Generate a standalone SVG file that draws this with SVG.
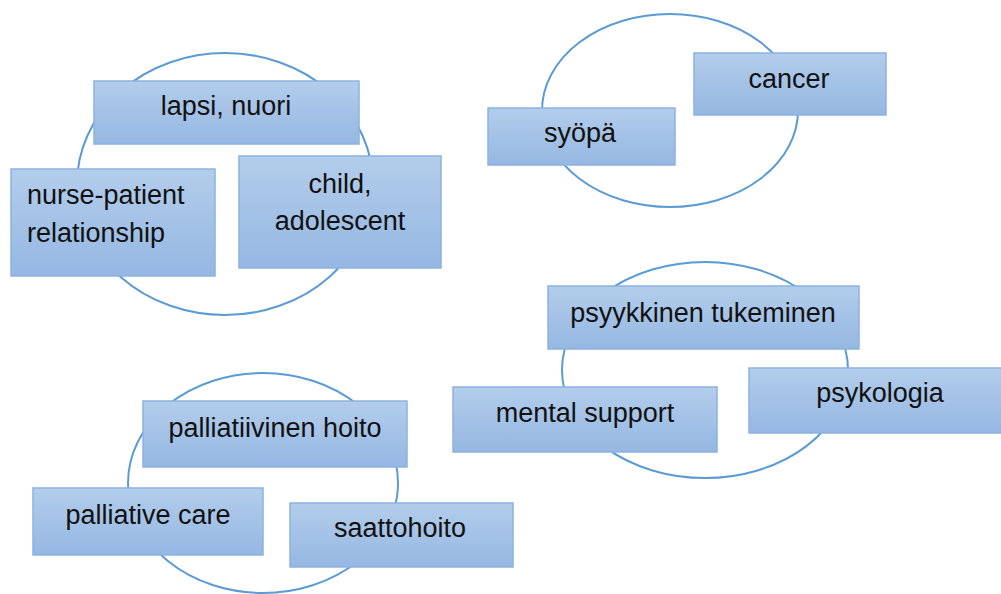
<svg xmlns="http://www.w3.org/2000/svg" width="1001" height="594" viewBox="0 0 1001 594">
<defs>
<linearGradient id="g" x1="0" y1="0" x2="0" y2="1">
<stop offset="0" stop-color="#b3cdeb"/>
<stop offset="1" stop-color="#95b7e2"/>
</linearGradient>
<style>
.ring{fill:none;stroke:#5b9bd5;stroke-width:2}
.box{fill:url(#g);stroke:#8cb2e0;stroke-width:1.5}
text{font-family:"Liberation Sans",Arial,sans-serif;font-size:27px;fill:#111}
.c{text-anchor:middle}
</style>
</defs>
<rect width="1001" height="594" fill="#fff"/>
<g id="rings">
<ellipse class="ring" cx="225" cy="184" rx="148" ry="131"/>
<ellipse class="ring" cx="670" cy="110.5" rx="128" ry="96.5"/>
<ellipse class="ring" cx="705" cy="370" rx="143" ry="108"/>
<ellipse class="ring" cx="263" cy="483" rx="135" ry="110"/>
</g>
<g id="connectors"></g>
<g id="n-lapsi"><rect class="box" x="94" y="81" width="265" height="63"/><text class="c" x="226" y="115">lapsi, nuori</text></g>
<g id="n-nurse"><rect class="box" x="11" y="169" width="204" height="107"/><text x="27" y="204">nurse-patient</text><text x="27" y="242">relationship</text></g>
<g id="n-child"><rect class="box" x="239" y="156" width="202" height="112"/><text class="c" x="340" y="193">child,</text><text class="c" x="340" y="230">adolescent</text></g>
<g id="n-cancer"><rect class="box" x="694" y="53" width="192" height="62"/><text class="c" x="789" y="88">cancer</text></g>
<g id="n-syopa"><rect class="box" x="488" y="108" width="187" height="57"/><text class="c" x="580" y="142">syöpä</text></g>
<g id="n-psyykkinen"><rect class="box" x="548" y="286" width="311" height="63"/><text class="c" x="703" y="322">psyykkinen tukeminen</text></g>
<g id="n-mental"><rect class="box" x="453" y="387" width="264" height="65"/><text class="c" x="585" y="422">mental support</text></g>
<g id="n-psykologia"><rect class="box" x="749" y="368" width="254" height="65"/><text class="c" x="880" y="402">psykologia</text></g>
<g id="n-palliatiivinen"><rect class="box" x="143" y="401" width="264" height="66"/><text class="c" x="275" y="437">palliatiivinen hoito</text></g>
<g id="n-palliative"><rect class="box" x="33" y="488" width="230" height="67"/><text class="c" x="148" y="524">palliative care</text></g>
<g id="n-saattohoito"><rect class="box" x="290" y="503" width="223" height="64"/><text class="c" x="400" y="537">saattohoito</text></g>
</svg>
